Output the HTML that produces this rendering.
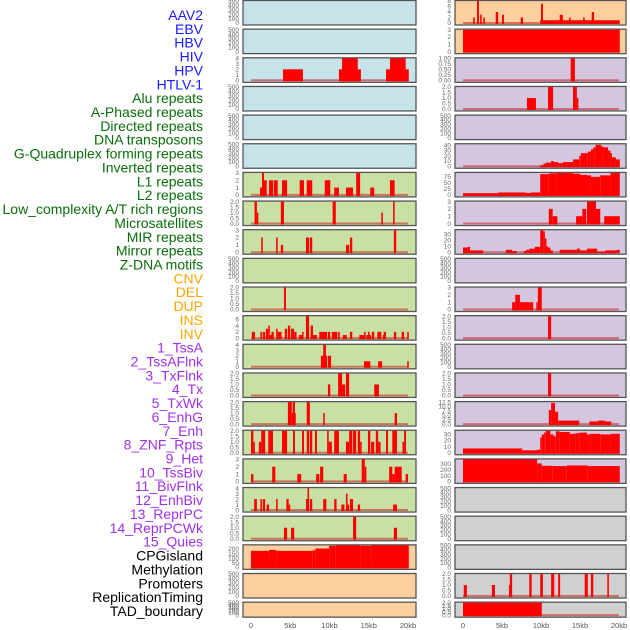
<!DOCTYPE html>
<html><head><meta charset="utf-8">
<style>
html,body{margin:0;padding:0;background:#fff;}
svg{display:block;font-family:"Liberation Sans",sans-serif;}
</style></head>
<body>
<svg id="chart" width="630" height="630" viewBox="0 0 630 630"></svg>
<script>
// ---- Labels ----
const labelNames = ["AAV2","EBV","HBV","HIV","HPV","HTLV-1","Alu repeats","A-Phased repeats","Directed repeats","DNA transposons","G-Quadruplex forming repeats","Inverted repeats","L1 repeats","L2 repeats","Low_complexity A/T rich regions","Microsatellites","MIR repeats","Mirror repeats","Z-DNA motifs","CNV","DEL","DUP","INS","INV","1_TssA","2_TssAFlnk","3_TxFlnk","4_Tx","5_TxWk","6_EnhG","7_Enh","8_ZNF_Rpts","9_Het","10_TssBiv","11_BivFlnk","12_EnhBiv","13_ReprPC","14_ReprPCWk","15_Quies","CPGisland","Methylation","Promoters","ReplicationTiming","TAD_boundary"];
const labelGroups = [0,0,0,0,0,0,1,1,1,1,1,1,1,1,1,1,1,1,1,2,2,2,2,2,3,3,3,3,3,3,3,3,3,3,3,3,3,3,3,4,4,4,4,4];

// ---- Tick label arrays ----
const ticks500 = [0,100,200,300,400,500];
const ticks4 = [0,1,2,3,4];
const ticks3 = [0,1,2,3];
const ticks2 = ["0.0","0.5","1.0","1.5","2.0"];
const ticks6 = [0,2,4,6];
const ticks8 = [0,2,4,6,8];
const ticks200 = [0,50,100,150,200];
const ticks1 = ["0.00","0.25","0.50","0.75","1.00"];
const ticks40 = [0,10,20,30,40];
const ticks75 = [0,25,50,75];
const ticks30 = [0,10,20,30];
const ticks12 = ["0.0","2.5","5.0","7.5","10.0","12.5"];
const ticks300 = [0,100,200,300];

// ---- Segment data [startKb, endKb, value] ----
const segL02 = [[4.08,6.62,2],[11.2,14.0,2],[11.6,13.6,4],[17.2,20.1,2],[17.7,19.7,4]];
const segL06 = [[1.15,1.4,1],[1.4,1.66,3],[1.66,2.0,2],[2.3,2.8,2],[2.9,3.4,2],[3.95,4.6,2],[6.2,6.75,2],[7.1,7.8,2],[9.4,10.1,2],[10.6,11.2,1],[12.1,13.0,1],[13.4,13.9,3],[15.2,15.7,1],[17.7,18.3,2]];
const segL07 = [[0.45,0.75,2],[0.75,0.85,1],[3.8,4.2,2],[10.4,10.8,2],[16.6,16.8,1],[18.1,18.3,2]];
const segL08 = [[1.3,1.5,2],[3.2,3.4,2],[3.8,4.1,1],[7.0,7.4,2],[7.5,7.8,2],[12.1,12.5,1],[12.6,12.9,2],[18.2,18.5,3]];
const segL10 = [[4.2,4.45,2]];
const segL11 = [[0.1,0.5,2],[1.2,1.4,2],[1.5,1.8,2],[1.9,2.2,3],[2.2,2.4,4],[2.4,2.9,1],[2.6,2.9,2],[3.2,3.4,3],[3.4,3.9,2],[4.3,4.6,3],[4.7,5.0,4],[5.1,5.5,3],[5.5,5.8,2],[6.1,6.5,1],[6.5,6.7,2],[7.0,7.4,7],[7.6,7.9,4],[7.9,8.4,1],[8.7,9.7,2],[9.8,10.1,2],[10.3,11.0,2],[11.1,11.3,2],[11.7,12.2,1],[12.6,12.9,2],[13.8,14.4,1],[14.4,14.6,2],[14.7,15.3,1],[14.9,15.1,2],[15.4,15.7,2],[16.1,16.6,2],[16.8,17.0,1],[16.9,17.2,2],[18.2,18.5,2],[19.2,19.5,2],[19.9,20.1,2]];
const segL12 = [[8.9,9.7,2],[9.2,9.55,4],[9.8,10.2,2],[14.4,15.2,1],[16.2,16.7,1],[19.9,20.1,1]];
const segL13 = [[9.8,10.1,1],[11.1,11.6,2],[11.6,12.0,1],[12.1,12.5,2],[15.7,16.3,1]];
const segL14 = [[4.7,5.2,2],[5.2,5.7,1],[5.3,5.6,2],[7.1,7.5,2],[9.2,9.4,1],[18.3,18.6,1]];
const segL15 = [[0.0,0.3,2],[0.3,0.45,1],[1.0,1.3,1],[1.3,1.8,2],[2.2,2.8,2],[3.95,4.6,2],[5.35,5.6,2],[6.5,6.75,2],[7.1,7.4,2],[7.5,7.8,2],[8.15,8.4,2],[9.7,9.9,2],[9.9,10.3,1],[10.6,11.2,2],[12.1,12.5,1],[12.5,12.9,2],[13.0,13.4,2],[13.6,13.9,2],[13.9,14.1,1],[14.9,15.2,2],[15.3,15.7,1],[15.9,16.2,2],[16.2,16.5,1],[17.2,17.45,2],[18.0,18.6,2],[19.3,19.5,1],[19.5,19.75,2]];
const segL16 = [[0.0,0.3,1],[2.7,3.1,2],[5.9,6.4,1],[8.3,8.7,1],[8.8,9.2,2],[11.8,12.2,1],[14.1,14.5,3],[14.5,14.7,2],[17.6,18.0,2],[18.0,18.3,1],[18.3,19.2,2],[19.7,20.0,1]];
const segL17 = [[0.4,0.75,2],[1.2,1.4,2],[1.5,1.8,2],[2.0,2.3,1],[3.2,3.4,2],[4.5,4.8,2],[4.8,5.0,1],[7.0,7.2,2],[7.2,7.4,4],[7.5,7.8,2],[9.2,9.6,2],[10.6,10.9,2],[11.5,11.9,1],[12.1,12.3,3],[12.3,12.5,1],[12.6,13.0,2],[13.6,13.9,1],[18.1,18.6,1]];
const segL18 = [[4.2,4.6,1],[5.1,5.5,1],[13.0,13.4,2],[18.2,18.6,1]];
const segL19 = [[0.0,2.3,180],[2.3,3.2,190],[3.2,7.8,180],[7.8,8.2,185],[8.2,9.95,205],[9.95,10.8,235],[10.8,13.9,240],[13.9,15.3,235],[15.3,20.1,240]];
const segR00 = [[1.3,1.5,2],[1.8,2.05,8],[2.2,2.4,3],[2.6,2.8,2],[4.2,4.5,4],[5.0,5.25,3],[7.4,7.7,2],[9.9,20.1,1],[10.0,10.25,7],[12.4,12.8,3],[13.6,13.8,2],[15.4,15.6,2],[16.5,16.8,4]];
const segR01 = [[0.0,20.1,3]];
const segR02 = [[13.8,14.35,1]];
const segR03 = [[8.2,9.35,1],[10.9,11.55,2],[14.1,14.6,2],[14.6,14.75,1]];
const segR05 = [[9.9,10.3,2],[10.3,10.6,5],[10.6,11.3,7],[11.3,11.6,10],[11.6,12.2,8],[12.2,12.8,6],[12.8,14.1,8],[14.1,14.9,13],[14.9,15.1,20],[15.1,16.0,25],[16.0,16.4,28],[16.4,16.7,32],[16.7,17.0,36],[17.0,17.7,41],[17.7,18.0,38],[18.0,18.6,36],[18.6,18.9,30],[18.9,19.1,25],[19.1,19.6,17],[19.6,20.1,13]];
const segR06 = [[0.0,4.5,7],[4.5,8.1,10],[8.1,8.7,8],[8.7,9.9,10],[9.9,11.0,85],[11.0,12.0,88],[12.0,14.1,90],[14.1,15.0,87],[15.0,15.9,82],[15.9,16.4,80],[16.4,17.6,74],[17.6,18.9,80],[18.9,20.1,90]];
const segR07 = [[11.0,11.5,2],[11.5,12.1,1],[14.5,15.3,1],[15.3,15.8,2],[15.9,17.05,3],[17.05,17.6,2],[18.1,20.1,1]];
const segR08 = [[0.0,0.6,8],[0.6,0.9,9],[0.9,2.6,3],[5.5,6.3,4],[6.3,6.9,2],[7.8,8.1,2],[8.1,8.5,4],[8.5,9.2,6],[9.2,9.9,9],[9.9,10.3,37],[10.3,10.5,35],[10.5,10.7,23],[10.7,10.9,10],[10.9,11.2,8],[11.2,11.5,3],[12.4,14.6,4],[14.6,15.0,6],[15.0,15.9,3],[15.9,17.2,6],[17.2,18.2,1],[18.2,19.7,3],[19.7,20.1,4]];
const segR10 = [[6.3,6.7,1],[6.7,7.3,2],[7.3,9.0,1],[9.4,9.6,1],[9.6,10.1,3]];
const segR11 = [[10.9,11.3,2]];
const segR13 = [[10.9,11.3,2]];
const segR14 = [[11.0,11.3,8],[11.3,11.8,12],[11.8,12.2,7],[12.2,14.9,2],[16.2,17.3,1.5],[17.3,18.2,2],[18.2,19.0,1.5]];
const segR15 = [[0.0,7.6,7],[7.6,9.5,4],[9.5,9.9,5],[9.9,10.1,25],[10.1,10.4,30],[10.4,10.6,33],[10.6,11.2,36],[11.2,11.6,30],[11.6,11.9,27],[11.9,12.4,35],[12.4,13.7,34],[13.7,14.4,31],[14.4,14.9,32],[14.9,15.9,33],[15.9,16.3,30],[16.3,17.6,31],[17.6,18.9,30],[18.9,20.1,31]];
const segR16 = [[0.0,9.5,380],[9.5,10.1,310],[10.1,11.5,270],[11.5,13.3,265],[13.3,16.0,275],[16.0,20.1,265]];
const segR20 = [[0.1,0.5,1],[3.7,4.1,1],[5.9,6.0,1],[6.0,6.3,2],[8.5,8.8,2],[9.9,10.25,2],[11.3,11.7,2],[12.2,12.45,2],[15.6,16.0,2],[16.4,16.7,2],[18.5,18.7,2]];
const segR21 = [[0.0,10.1,2]];

// panel list: [column, row, bgIndex, ticks, ymax, segments]
const panels = [
 ["L",0,0,ticks500,500,[]],["L",1,0,ticks500,500,[]],["L",2,0,ticks4,4,segL02],["L",3,0,ticks500,500,[]],["L",4,0,ticks500,500,[]],["L",5,0,ticks500,500,[]],
 ["L",6,1,ticks3,3,segL06],["L",7,1,ticks2,2,segL07],["L",8,1,ticks3,3,segL08],["L",9,1,ticks500,500,[]],["L",10,1,ticks2,2,segL10],["L",11,1,ticks6,7,segL11],
 ["L",12,1,ticks4,4,segL12],["L",13,1,ticks2,2,segL13],["L",14,1,ticks2,2,segL14],["L",15,1,ticks2,2,segL15],["L",16,1,ticks3,3,segL16],["L",17,1,ticks4,4,segL17],["L",18,1,ticks2,2,segL18],
 ["L",19,2,ticks200,240,segL19],["L",20,2,ticks500,500,[]],["L",21,2,ticks500,500,[]],
 ["R",0,2,ticks8,8,segR00],["R",1,2,ticks3,3,segR01],["R",2,3,ticks1,1,segR02],["R",3,3,ticks2,2,segR03],["R",4,3,ticks500,500,[]],["R",5,3,ticks40,42,segR05],
 ["R",6,3,ticks75,90,segR06],["R",7,3,ticks3,3,segR07],["R",8,3,ticks30,37,segR08],["R",9,3,ticks500,500,[]],["R",10,3,ticks3,3,segR10],["R",11,3,ticks2,2,segR11],
 ["R",12,3,ticks500,500,[]],["R",13,3,ticks2,2,segR13],["R",14,3,ticks12,12.5,segR14],["R",15,3,ticks30,36,segR15],["R",16,3,ticks300,380,segR16],
 ["R",17,4,ticks500,500,[]],["R",18,4,ticks500,500,[]],["R",19,4,ticks500,500,[]],["R",20,4,ticks2,2,segR20],["R",21,4,ticks2,2,segR21]
];
const xTickKb = [0,5,10,15,20];
const xTickLabels = ["0","5kb","10kb","15kb","20kb"];

// ---- styling / layout ----
const NS = "http://www.w3.org/2000/svg";
const svg = document.getElementById("chart");
const bgColors = ["#c6e3ea","#c8e0a4","#fdcf9f","#d5c6e0","#d0d0d0"];
const labelColors = ["#1a1aff","#0a6e0a","#ffa500","#a030e8","#000000"];
const col = { L:{x0:243,x1:416,org:251,k:7.85,tx:239}, R:{x0:455,x1:626,org:463,k:7.8,tx:451} };
function xScale(c,kb){ return col[c].org + kb*col[c].k; }
function rowTop(r){ return r*28.65; }
function rowH(r){ return r===21 ? 15 : 24.5; }
function yScale(r,ymax,v){ const t=rowTop(r), h=rowH(r); return t+h-1.5 - (v/ymax)*(h-2.5); }
function mk(tag,attrs){ const e=document.createElementNS(NS,tag); for(const k in attrs) e.setAttribute(k,attrs[k]); svg.appendChild(e); return e; }

labelNames.forEach((n,i)=>{
  const t = mk("text",{x:203,y:20+i*13.86,"text-anchor":"end","font-size":"14",fill:labelColors[labelGroups[i]]});
  t.textContent = n;
  
  
});

panels.forEach((p)=>{
  const [c,r,bgi,ticks,ymax,segs] = p;
  const C = col[c], top=rowTop(r), h=rowH(r);
  const rect = mk("rect",{x:C.x0,y:top+0.5,width:C.x1-C.x0,height:h,fill:bgColors[bgi],stroke:"#555","stroke-width":"1.3"});
  
  
  const by = yScale(r,ymax,0);
  if (segs.length) {
    const base = mk("line",{x1:xScale(c,0),x2:xScale(c,20),y1:by,y2:by,stroke:"rgba(200,30,30,0.55)","stroke-width":"2"});
    
    
  }
  segs.forEach(s=>{
    const x1=xScale(c,s[0]), x2=xScale(c,s[1]), y=yScale(r,ymax,s[2]);
    const b = mk("rect",{x:x1,y:y,width:Math.max(1.5,x2-x1),height:Math.max(0,by-y+1),fill:"#ff0000"});
    
    
  });
  ticks.forEach(tv=>{
    const v = parseFloat(tv);
    const t = mk("text",{x:C.tx,y:yScale(r,ymax,v)+2.2,"text-anchor":"end","font-size":"6.5",fill:"#666"});
    t.textContent = tv;
    
    
  });
});

["L","R"].forEach(c=>{
  xTickKb.forEach((kb,i)=>{
    const t = mk("text",{x:xScale(c,kb),y:628,"text-anchor":"middle","font-size":"7.5",fill:"#555"});
    t.textContent = xTickLabels[i];
    
    
  });
});
</script>
</body></html>
